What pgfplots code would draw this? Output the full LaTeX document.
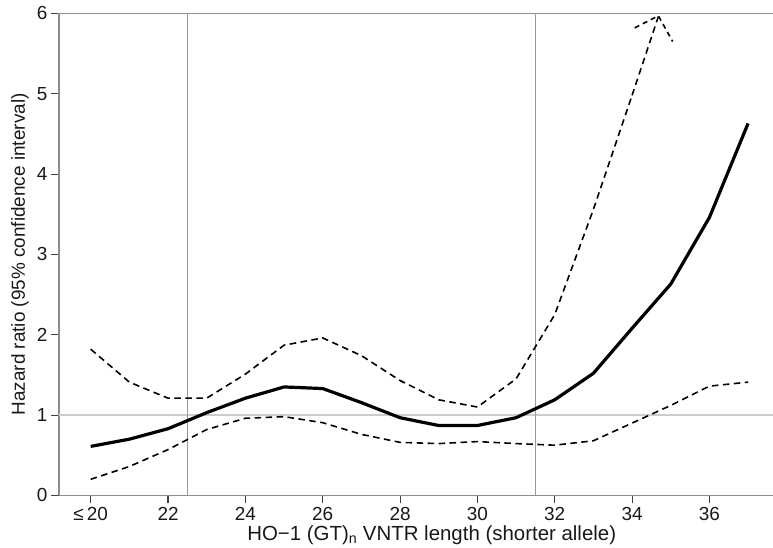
\documentclass[border=0pt]{standalone}
\usepackage{pgfplots}
\pgfplotsset{compat=1.18}
\usepackage{fontspec}
\setmainfont{Liberation Sans}

% hazard ratio with 95% CI by shorter allele length
\pgfplotstableread{
x   est    lo     hi
20  0.61   0.20   1.82
21  0.70   0.36   1.41
22  0.83   0.57   1.21
23  1.03   0.82   1.21
24  1.21   0.96   1.51
25  1.35   0.98   1.87
26  1.33   0.905  1.96
27  1.155  0.76   1.74
28  0.967  0.66   1.43
29  0.87   0.645  1.19
30  0.87   0.67   1.10
31  0.967  0.645  1.45
32  1.19   0.625  2.25
33  1.52   0.68   3.56
34  2.08   0.90   4.98
35  2.63   1.12   nan
36  3.46   1.36   nan
37  4.63   1.41   nan
}\hrdata

\begin{document}
\begin{tikzpicture}[x=1bp,y=1bp]
\path[use as bounding box] (-59,-52.6) rectangle (714,495.4);
\begin{axis}[
  at={(0,0)}, anchor=south west,
  width=714bp, height=482bp, scale only axis,
  xmin=19.18, xmax=37.645, ymin=0, ymax=6,
  axis x line*=box, axis y line*=left,
  axis line style={-, draw=black!45, line width=1.3bp},
  xtick={20,22,...,36},
  xticklabels={≤\,20,22,24,26,28,30,32,34,36},
  ytick={0,...,6},
  xtick pos=left, ytick pos=left,
  tick align=outside, major tick length=8bp,
  tick style={black!75, line width=1.1bp},
  ticklabel style={font=\fontsize{19}{22}\selectfont, text=black!90},
  /pgf/number format/assume math mode=true,
  xlabel={HO−1 (GT)\textsubscript{n} VNTR length (shorter allele)},
  ylabel={Hazard ratio (95\% confidence interval)},
  ylabel style={font=\fontsize{19}{22}\selectfont, text=black!90,
    at={(axis description cs:-0.0546,0.5)}, anchor=center},
  xlabel style={font=\fontsize{20.5}{23}\selectfont, text=black!90,
    at={(axis description cs:0.522,-0.082)}, anchor=center},
  clip=true,
]
\addplot[black!20, line width=1.4bp] coordinates {(19.18,1)(37.645,1)};
\addplot[black!40, line width=1.5bp] coordinates {(22.5,0)(22.5,6)};
\addplot[black!40, line width=1.5bp] coordinates {(31.5,0)(31.5,6)};

\addplot[black, line width=1.6bp, dash pattern=on 6.5bp off 4.5bp] table[x=x,y=lo] {\hrdata};
\addplot[black, line width=1.6bp, dash pattern=on 6.5bp off 4.5bp, unbounded coords=discard] table[x=x,y=hi] {\hrdata};
\addplot[black, line width=1.6bp, dash pattern=on 6.5bp off 4.5bp] coordinates {(34,4.98)(34.68,5.96)};
\addplot[black, line width=1.6bp, dash pattern=on 5bp off 4bp] coordinates {(34.07,5.82)(34.68,5.97)(35.05,5.65)};

\addplot[black, line width=3.2bp, line join=round] table[x=x,y=est] {\hrdata};
\end{axis}
\end{tikzpicture}
\end{document}
